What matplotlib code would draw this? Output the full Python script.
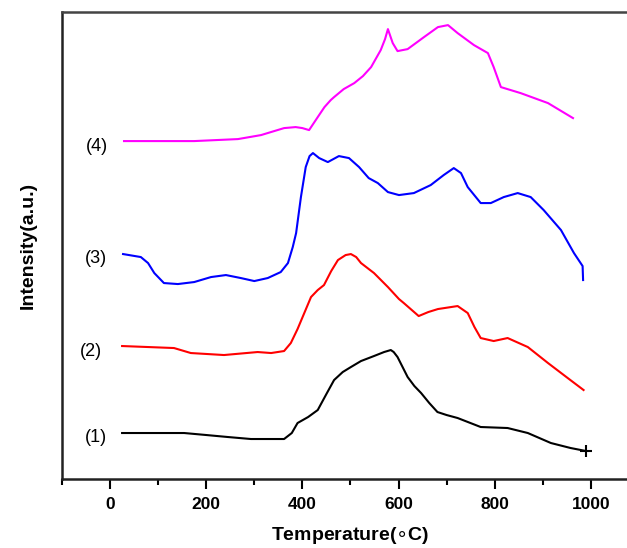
import matplotlib
matplotlib.use("Agg")
import matplotlib.pyplot as plt

plt.rcParams['font.family'] = ['Liberation Sans', 'DejaVu Sans']

# Temperature (°C) and intensity (a.u.)
t1 = [25, 154, 200, 245, 293, 362, 378, 390, 412, 432, 450, 466, 484, 501, 522, 549, 570, 584, 590, 598, 619, 633, 647, 664, 681, 700, 723, 771, 827, 869, 917, 958, 990]
y1 = [46, 46, 44, 42, 40, 40, 46, 56, 62, 69, 85, 99, 107, 112, 118, 123, 127, 129, 127, 122, 102, 93, 86, 76, 67, 64, 61, 52, 51, 46, 36, 31, 28]

t2 = [25, 133, 168, 237, 307, 335, 362, 376, 390, 404, 418, 432, 445, 460, 474, 490, 501, 512, 522, 549, 578, 601, 611, 642, 662, 682, 723, 744, 758, 771, 798, 827, 869, 911, 952, 985]
y2 = [133, 131, 126, 124, 127, 126, 128, 136, 150, 166, 182, 189, 194, 208, 219, 224, 225, 222, 216, 206, 192, 180, 176, 163, 167, 170, 173, 166, 152, 141, 138, 141, 132, 116, 101, 89]

t3 = [27, 64, 79, 92, 112, 141, 175, 210, 241, 272, 300, 328, 355, 370, 380, 387, 397, 407, 415, 422, 435, 453, 476, 497, 518, 538, 557, 578, 601, 632, 667, 694, 715, 730, 744, 771, 792, 819, 848, 875, 902, 938, 965, 983, 984]
y3 = [225, 222, 216, 206, 196, 195, 197, 202, 204, 201, 198, 201, 207, 216, 232, 246, 282, 312, 323, 326, 321, 317, 323, 321, 312, 301, 296, 287, 284, 286, 294, 304, 311, 306, 292, 276, 276, 282, 286, 282, 269, 249, 226, 213, 199]

t4 = [29, 175, 266, 314, 362, 386, 400, 414, 432, 446, 459, 466, 486, 508, 526, 543, 563, 572, 578, 588, 598, 619, 653, 682, 703, 723, 757, 786, 798, 813, 854, 911, 963]
y4 = [338, 338, 340, 344, 351, 352, 351, 349, 362, 372, 379, 382, 390, 396, 403, 412, 429, 440, 450, 436, 428, 430, 442, 452, 454, 446, 434, 426, 412, 392, 386, 376, 361]

curve_labels = ['(1)', '(2)', '(3)', '(4)']
label_y = [42, 128, 221, 333]
label_t = [-29, -40, -29, -27]
xticks = [0, 200, 400, 600, 800, 1000]

fig = plt.figure(figsize=(6.27, 5.48), dpi=100)
ax = fig.add_axes([0.0989, 0.1259, 0.920, 0.852])

lw = 1.5
ax.plot(t1, y1, color='black', lw=lw)
ax.plot([t1[-1]], [y1[-1]], marker='+', color='black', ms=8, mew=1.5)
ax.plot(t2, y2, color='#ff0000', lw=lw)
ax.plot(t3, y3, color='#0000ff', lw=lw)
ax.plot(t4, y4, color='#ff00ff', lw=lw)

for lab, tx, ty in zip(curve_labels, label_t, label_y):
    ax.text(tx, ty, lab, ha='center', va='center', fontsize=13)

ax.set_xlim(-100, 1100)
ax.set_ylim(0, 467)
ax.set_xticks(xticks)
ax.set_xticks([-100, 100, 300, 500, 700, 900, 1100], minor=True)
ax.set_yticks([])
for lbl in ax.get_xticklabels():
    lbl.set_fontweight('bold')
ax.tick_params(axis='x', which='major', direction='out', length=7, width=1.5, labelsize=12.5, pad=6)
ax.tick_params(axis='x', which='minor', direction='out', length=4, width=1.5)

for s in ['left', 'bottom']:
    ax.spines[s].set_linewidth(1.8)
    ax.spines[s].set_color('#222222')
ax.spines['top'].set_linewidth(1.8)
ax.spines['top'].set_color('#444444')
ax.spines['right'].set_visible(False)

ax.set_xlabel('Temperature($\\circ$C)', fontsize=14, fontweight='bold', labelpad=9)
ax.set_ylabel('Intensity(a.u.)', fontsize=14, fontweight='bold', labelpad=18)

fig.savefig('out.png', dpi=100)
